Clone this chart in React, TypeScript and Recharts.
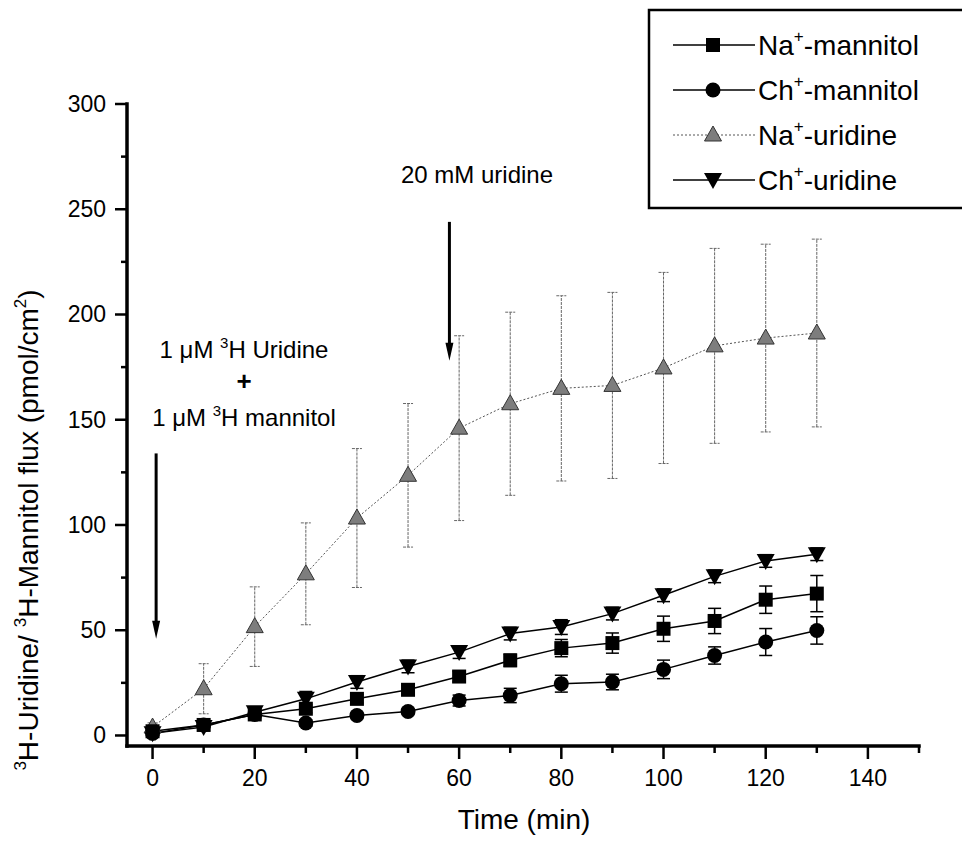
import { LineChart, Line, XAxis, YAxis, ErrorBar, Legend, ReferenceLine } from "recharts";

const FONT = '"Liberation Sans", Arial, Helvetica, sans-serif';

const times = [0, 10, 20, 30, 40, 50, 60, 70, 80, 90, 100, 110, 120, 130];
const naMannitol = [2, 5, 10, 12.7, 17.4, 21.7, 28, 35.7, 41.5, 43.9, 50.7, 54.4, 64.5, 67.4];
const naMannitolErr = [1, 1.5, 2, 2, 2, 2, 2.5, 2.9, 4.1, 4.8, 6, 6, 6.5, 8.6];
const chMannitol = [1, 5, 10, 5.9, 9.5, 11.4, 16.6, 19, 24.6, 25.4, 31.4, 38, 44.4, 49.9];
const chMannitolErr = [1, 1, 1.5, 1.5, 1.5, 1.5, 2.6, 3.4, 4, 3.7, 4.4, 4.1, 6.4, 6.5];
const naUridine = [4, 22.2, 51.7, 76.8, 103.3, 123.6, 146, 157.6, 164.9, 166.3, 174.6, 185.1, 188.8, 191.2];
const naUridineErr = [2, 11.9, 18.9, 24.2, 33, 34.1, 43.9, 43.5, 44, 44.2, 45.4, 46.3, 44.6, 44.6];
const chUridine = [1, 4, 11, 17.4, 25.4, 32.8, 39.6, 48.4, 51.5, 57.9, 66.6, 75.6, 82.9, 86.1];
const chUridineErr = [1, 1.5, 2, 3.5, 3, 3, 3, 3, 3.5, 3, 3, 3, 3, 3];

const xTicks = [0, 10, 20, 30, 40, 50, 60, 70, 80, 90, 100, 110, 120, 130, 140, 150];
const xMajor = [0, 20, 40, 60, 80, 100, 120, 140];
const yTicks = [0, 25, 50, 75, 100, 125, 150, 175, 200, 225, 250, 275, 300];
const yMajor = [0, 50, 100, 150, 200, 250, 300];

const rows = times.map((t, i) => ({
  t,
  naM: naMannitol[i],
  naMErr: naMannitolErr[i],
  chM: chMannitol[i],
  chMErr: chMannitolErr[i],
  naU: naUridine[i],
  naUErr: naUridineErr[i],
  chU: chUridine[i],
  chUErr: chUridineErr[i],
}));

type Mk = "square" | "circle" | "up" | "down";

function Marker({ kind, cx, cy }: { kind: Mk; cx: number; cy: number }) {
  if (cx == null || cy == null) return null;
  if (kind === "square") return <rect x={cx - 7} y={cy - 7} width={14} height={14} fill="#000" />;
  if (kind === "circle") return <circle cx={cx} cy={cy} r={7.5} fill="#000" />;
  if (kind === "up")
    return (
      <path
        d={`M${cx},${cy - 9} L${cx + 8.5},${cy + 6} L${cx - 8.5},${cy + 6} Z`}
        fill="#7d7d7d"
        stroke="#333"
        strokeWidth={1}
      />
    );
  return <path d={`M${cx - 9},${cy - 7} L${cx + 9},${cy - 7} L${cx},${cy + 9} Z`} fill="#000" />;
}

const dotOf = (kind: Mk) => (p: any) => <Marker key={`${kind}-${p.index}`} kind={kind} cx={p.cx} cy={p.cy} />;

const legendItems: { ion: string; rest: string; kind: Mk; grey?: boolean }[] = [
  { ion: "Na", rest: "-mannitol", kind: "square" },
  { ion: "Ch", rest: "-mannitol", kind: "circle" },
  { ion: "Na", rest: "-uridine", kind: "up", grey: true },
  { ion: "Ch", rest: "-uridine", kind: "down" },
];

function LegendBox() {
  return (
    <svg width={330} height={202} style={{ display: "block", overflow: "visible" }}>
      <rect x={1} y={1} width={340} height={198} fill="#fff" stroke="#000" strokeWidth={2.5} />
      {legendItems.map((it, i) => {
        const y = 36 + i * 45;
        return (
          <g key={i}>
            <line
              x1={25}
              x2={107}
              y1={y}
              y2={y}
              stroke={it.grey ? "#555" : "#000"}
              strokeWidth={it.grey ? 1 : 1.5}
              strokeDasharray={it.grey ? "2 2" : undefined}
            />
            <Marker kind={it.kind} cx={65} cy={y} />
            <text x={110} y={y + 10} fontSize={28} fontFamily={FONT} fill="#000">
              {it.ion}
              <tspan fontSize={17} dy={-13}>+</tspan>
              <tspan dy={13}>{it.rest}</tspan>
            </text>
          </g>
        );
      })}
    </svg>
  );
}

function XTick(props: any) {
  const { x, y, payload } = props;
  const major = xMajor.includes(payload.value);
  return (
    <g>
      <line x1={x} x2={x} y1={y} y2={y + (major ? 13 : 7)} stroke="#000" strokeWidth={2.5} />
      {major && (
        <text x={x} y={y + 40} textAnchor="middle" fontSize={23} fontFamily={FONT} fill="#000">
          {payload.value}
        </text>
      )}
    </g>
  );
}

function YTick(props: any) {
  const { x, y, payload } = props;
  const major = yMajor.includes(payload.value);
  return (
    <g>
      <line x1={x} x2={x - (major ? 12 : 6)} y1={y} y2={y} stroke="#000" strokeWidth={2.5} />
      {major && (
        <text x={x - 21} y={y + 8} textAnchor="end" fontSize={23} fontFamily={FONT} fill="#000">
          {payload.value}
        </text>
      )}
    </g>
  );
}

function Arrow(props: any) {
  const { x1, y1, x2, y2 } = props;
  if (x1 == null) return null;
  return (
    <g>
      <line x1={x1} y1={y1} x2={x2} y2={y2 - 14} stroke="#000" strokeWidth={3} />
      <path d={`M${x2 - 4},${y2 - 18} L${x2 + 4},${y2 - 18} L${x2},${y2} Z`} fill="#000" />
    </g>
  );
}

const axisLineStyle = { stroke: "#000", strokeWidth: 3.5, strokeLinecap: "square" as const };

export default function App() {
  return (
    <div style={{ position: "absolute", left: 0, top: 0, width: 962, height: 842, overflow: "hidden", background: "#fff" }}>
      <LineChart width={962} height={842} data={rows} margin={{ top: 104, right: 43, bottom: 0, left: 0 }}>
        <XAxis
          dataKey="t"
          type="number"
          domain={[-5, 150]}
          ticks={xTicks}
          interval={0}
          height={96}
          tickSize={0}
          tickMargin={0}
          tickLine={false}
          tick={<XTick />}
          stroke="#000"
          strokeWidth={3.5}
          axisLine={axisLineStyle}
        />
        <YAxis
          type="number"
          domain={[-5, 300]}
          ticks={yTicks}
          interval={0}
          width={127}
          tickSize={0}
          tickMargin={0}
          tickLine={false}
          tick={<YTick />}
          stroke="#000"
          strokeWidth={3.5}
          axisLine={axisLineStyle}
        />
        <ReferenceLine segment={[{ x: 0.7, y: 134 }, { x: 0.7, y: 46 }]} shape={<Arrow />} />
        <ReferenceLine segment={[{ x: 58.1, y: 244 }, { x: 58.1, y: 178 }]} shape={<Arrow />} />
        <Line
          dataKey="naU"
          stroke="#555"
          strokeWidth={1}
          strokeDasharray="2 2"
          dot={dotOf("up")}
          isAnimationActive={false}
        >
          <ErrorBar dataKey="naUErr" direction="y" width={5} stroke="#666" strokeWidth={1} strokeDasharray="3 1" />
        </Line>
        <Line dataKey="chM" stroke="#000" strokeWidth={1.5} dot={dotOf("circle")} isAnimationActive={false}>
          <ErrorBar dataKey="chMErr" direction="y" width={6.5} stroke="#000" strokeWidth={1.5} />
        </Line>
        <Line dataKey="naM" stroke="#000" strokeWidth={1.5} dot={dotOf("square")} isAnimationActive={false}>
          <ErrorBar dataKey="naMErr" direction="y" width={6.5} stroke="#000" strokeWidth={1.5} />
        </Line>
        <Line dataKey="chU" stroke="#000" strokeWidth={1.5} dot={dotOf("down")} isAnimationActive={false}>
          <ErrorBar dataKey="chUErr" direction="y" width={6.5} stroke="#000" strokeWidth={1.5} />
        </Line>
        <Legend
          layout="vertical"
          align="center"
          verticalAlign="middle"
          content={<LegendBox />}
          wrapperStyle={{ left: 648, top: 9, width: 314, height: 202 }}
        />
      </LineChart>
      <svg
        width={962}
        height={842}
        style={{ position: "absolute", left: 0, top: 0, pointerEvents: "none" }}
        fontFamily={FONT}
      >
        <text x={244} y={358} textAnchor="middle" fontSize={24} fill="#000">
          1 μM <tspan fontSize={15} dy={-10}>3</tspan>
          <tspan dy={10}>H Uridine</tspan>
        </text>
        <text x={244} y={390} textAnchor="middle" fontSize={26} fontWeight="bold" fill="#000">
          +
        </text>
        <text x={244} y={426} textAnchor="middle" fontSize={24} fill="#000">
          1 μM <tspan fontSize={15} dy={-10}>3</tspan>
          <tspan dy={10}>H mannitol</tspan>
        </text>
        <text x={477} y={183} textAnchor="middle" fontSize={24} fill="#000">
          20 mM uridine
        </text>
        <text x={524} y={829} textAnchor="middle" fontSize={28} fill="#000">
          Time (min)
        </text>
        <text x={38} y={530} textAnchor="middle" fontSize={28} fill="#000" transform="rotate(-90, 38, 530)">
          <tspan fontSize={17} dy={-12}>3</tspan>
          <tspan dy={12}>{"H-Uridine/ "}</tspan>
          <tspan fontSize={17} dy={-12}>3</tspan>
          <tspan dy={12}>H-Mannitol flux (pmol/cm</tspan>
          <tspan fontSize={17} dy={-12}>2</tspan>
          <tspan dy={12}>)</tspan>
        </text>
      </svg>
    </div>
  );
}
